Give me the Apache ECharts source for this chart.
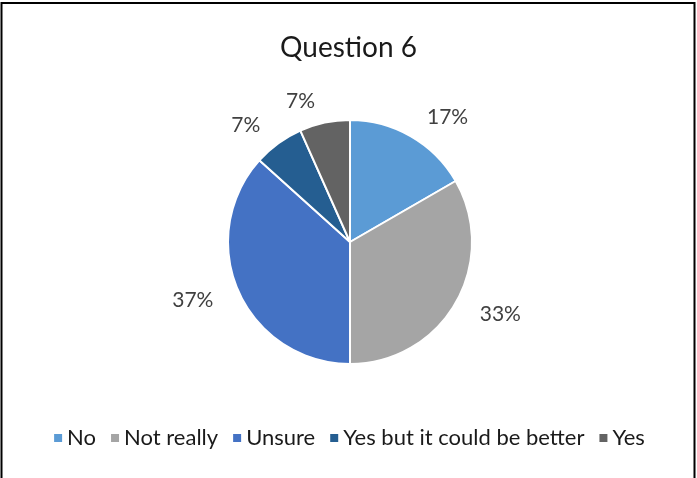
<!DOCTYPE html>
<html>
<head>
<meta charset="utf-8">
<script src="https://cdn.jsdelivr.net/npm/echarts@6/dist/echarts.min.js"></script>
<style>
  html, body { margin: 0; padding: 0; background: #fff; }
  #chart { width: 697px; height: 478px; }
</style>
</head>
<body>
<div id="chart"></div>
<script>
// 30 answers in total
var categories = ["No", "Not really", "Unsure", "Yes but it could be better", "Yes"];
var counts = [5, 10, 11, 2, 2];
var colors = ["#5B9BD5", "#A5A5A5", "#4472C4", "#255E91", "#636363"];

var chart = echarts.init(document.getElementById("chart"));
chart.setOption({
  animation: false,
  color: colors,
  title: {
    text: "Question 6",
    left: "center",
    top: 29,
    textStyle: {
      fontFamily: "Lato",
      fontSize: 28,
      fontWeight: "normal",
      color: "#1a1a1a",
    },
  },
  legend: {
    data: categories,
    bottom: 24,
    left: "center",
    icon: "rect",
    itemWidth: 10,
    itemHeight: 10,
    itemGap: 13,
    textStyle: {
      fontFamily: "Lato",
      fontSize: 22,
      color: "#1a1a1a",
      padding: [0, 0, 0, -1],
    },
  },
  graphic: [
    {
      type: "polyline",
      shape: { points: [[1.5, 478], [1.5, 3], [694.5, 3], [694.5, 478]] },
      style: { stroke: "#000", lineWidth: 2, fill: null },
      silent: true,
    },
  ],
  series: [
    {
      type: "pie",
      center: [350, 242],
      radius: 122,
      startAngle: 90,
      clockwise: true,
      data: categories.map(function (c, i) {
        return { name: c, value: counts[i] };
      }),
      itemStyle: { borderColor: "#fff", borderWidth: 2 },
      label: {
        show: true,
        position: "outside",
        formatter: function (p) {
          return Math.round(p.percent) + "%";
        },
        fontFamily: "Lato",
        fontSize: 21,
        color: "#404040",
      },
      labelLine: { show: false, length: 22, length2: 0 },
      emphasis: { disabled: true },
    },
  ],
});
</script>
</body>
</html>
